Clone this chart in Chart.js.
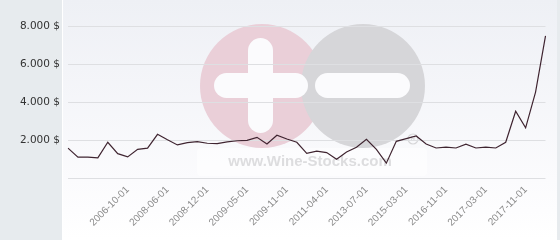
<!DOCTYPE html>
<html>
<head>
<meta charset="utf-8">
<script src="https://cdn.jsdelivr.net/npm/chart.js@4.4.1/dist/chart.umd.min.js"></script>
<style>
  html, body { margin: 0; padding: 0; background: #fff; }
  #wrap { width: 560px; height: 240px; position: relative; }
</style>
</head>
<body>
<div id="wrap"><canvas id="chart"></canvas></div>
<script>
const categories = [
  '2005-05-01', '2005-08-01', '2005-11-01', '2006-01-01', '2006-04-01', '2006-07-01',
  '2006-10-01', '2007-03-01', '2007-07-01', '2007-11-01', '2008-06-01', '2008-08-01',
  '2008-09-01', '2008-11-01', '2008-12-01', '2009-01-01', '2009-02-01', '2009-04-01',
  '2009-05-01', '2009-07-01', '2009-09-01', '2009-10-01', '2009-11-01', '2010-03-01',
  '2010-07-01', '2010-10-01', '2011-04-01', '2011-11-01', '2012-05-01', '2012-12-01',
  '2013-07-01', '2014-01-01', '2014-07-01', '2014-11-01', '2015-03-01', '2015-07-01',
  '2015-12-01', '2016-04-01', '2016-11-01', '2016-12-01', '2017-01-01', '2017-02-01',
  '2017-03-01', '2017-05-01', '2017-07-01', '2017-09-01', '2017-11-01', '2018-01-01',
  '2018-03-01'
]

const prices = [
  1570, 1100, 1100, 1060, 1880, 1280, 1110, 1510, 1570, 2300,
  2010, 1740, 1860, 1910, 1830, 1810, 1900, 1960, 1980, 2140,
  1790, 2250, 2050, 1880, 1300, 1410, 1340, 990, 1370, 1620,
  2040, 1510, 780, 1930, 2070, 2210, 1790, 1580, 1620, 1580,
  1780, 1580, 1620, 1580, 1880, 3510, 2640, 4520, 7480
]

const tickLabels = [
  '2006-10-01', '2008-06-01', '2008-12-01', '2009-05-01', '2009-11-01', '2011-04-01',
  '2013-07-01', '2015-03-01', '2016-11-01', '2017-03-01', '2017-11-01'
]

const yTicks = [2000, 4000, 6000, 8000]

function formatDollar(v) {
  const s = String(Math.round(v)).replace(/\B(?=(\d{3})+(?!\d))/g, '.')
  return `${s} $`
}

// backdrop + watermark, painted before the grid
const backdrop = {
  id: 'backdrop',
  beforeDraw(chart) {
    const ctx = chart.ctx
    const w = chart.width
    const h = chart.height
    ctx.save()
    ctx.fillStyle = '#e7ebee'
    ctx.fillRect(0, 0, w, h)
    const g = ctx.createLinearGradient(0, 0, 0, h)
    g.addColorStop(0, '#eef0f5')
    g.addColorStop(0.75, '#fbfbfd')
    g.addColorStop(1, '#ffffff')
    ctx.fillStyle = g
    ctx.fillRect(63, 0, w - 66, h)
    ctx.fillStyle = '#ffffff'
    ctx.fillRect(62, 0, 1, h)

    // logo
    ctx.fillStyle = '#eacfd8'
    ctx.beginPath(); ctx.arc(262, 86, 62, 0, Math.PI * 2); ctx.fill()
    ctx.fillStyle = '#d6d6d9'
    ctx.beginPath(); ctx.arc(363, 86, 62, 0, Math.PI * 2); ctx.fill()
    ctx.fillStyle = '#fbfbfd'
    const pill = (x, y, pw, ph) => {
      const r = Math.min(pw, ph) / 2
      ctx.beginPath()
      ctx.roundRect(x, y, pw, ph, r)
      ctx.fill()
    }
    pill(248, 38, 25, 95)
    pill(214, 73, 94, 25)
    pill(315, 73, 95, 25)

    ctx.fillStyle = 'rgba(255,255,255,0.55)'
    ctx.beginPath(); ctx.roundRect(197, 148, 230, 28, 4); ctx.fill()
    ctx.fillStyle = '#dddddf'
    ctx.font = 'bold 15px "Liberation Sans", Arial, sans-serif'
    ctx.textAlign = 'center'
    ctx.textBaseline = 'alphabetic'
    ctx.fillText('www.Wine-Stocks.com', 310, 166)
    ctx.strokeStyle = '#d6d6d8'
    ctx.lineWidth = 1.2
    ctx.beginPath(); ctx.arc(413, 139, 5, 0, Math.PI * 2); ctx.stroke()
    ctx.font = 'bold 7px "Liberation Sans", Arial, sans-serif'
    ctx.textBaseline = 'middle'
    ctx.fillText('R', 413, 139.5)
    ctx.restore()
  }
}

new Chart(document.getElementById('chart'), {
  type: 'line',
  data: {
    labels: categories,
    datasets: [{
      data: prices,
      borderColor: '#3f2430',
      borderWidth: 1.2,
      pointRadius: 0,
      tension: 0,
      fill: false
    }]
  },
  options: {
    responsive: true,
    maintainAspectRatio: false,
    animation: false,
    layout: { padding: { top: 26, right: 5, left: 0, bottom: 0 } },
    plugins: { legend: { display: false }, tooltip: { enabled: false } },
    scales: {
      x: {
        grid: { display: false, drawTicks: false },
        border: { display: false },
        afterFit: s => { s.height = 62 },
        ticks: {
          autoSkip: false,
          maxRotation: 45,
          minRotation: 45,
          padding: 6,
          color: '#8a8a8a',
          font: { family: '"Liberation Sans", Arial, sans-serif', size: 10 },
          callback(v, i) {
            const label = categories[i]
            return tickLabels.includes(label) ? label : ''
          }
        }
      },
      y: {
        min: 0,
        max: 8000,
        grid: { color: '#dedfe2', drawTicks: false },
        border: { display: false },
        afterFit: s => { s.width = 68 },
        afterBuildTicks: s => { s.ticks = [0, ...yTicks].map(v => ({ value: v })) },
        ticks: {
          padding: 8,
          color: '#333333',
          font: { family: '"DejaVu Sans", sans-serif', size: 10.5 },
          callback: v => (v === 0 ? '' : formatDollar(v))
        }
      }
    }
  },
  plugins: [backdrop]
})
</script>
</body>
</html>
